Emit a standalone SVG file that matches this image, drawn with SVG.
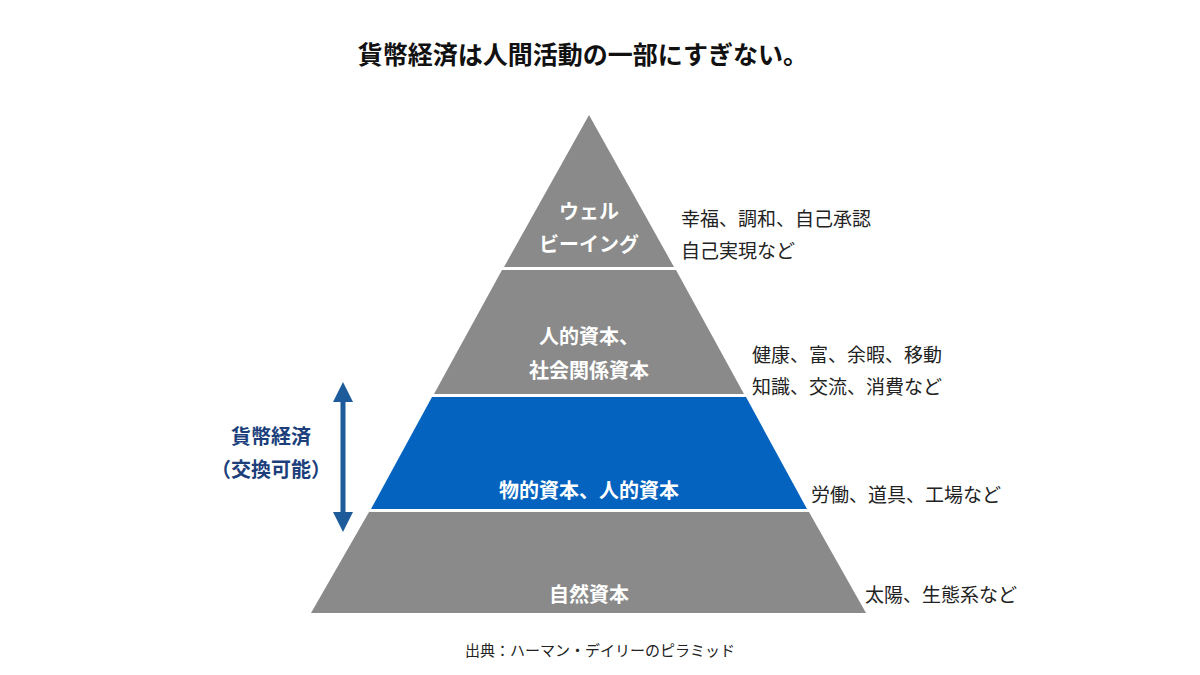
<svg xmlns="http://www.w3.org/2000/svg" width="1200" height="675" viewBox="0 0 1200 675">
<style>
text{font-family:"Noto Sans CJK JP","Noto Sans",sans-serif}
.t{font-size:25px;font-weight:bold;fill:#111}
.in{font-size:20px;font-weight:bold;fill:#fff;text-anchor:middle}
.side{font-size:19px;fill:#222}
.g{fill:#8a8a8a}
.lbl{font-size:20px;font-weight:bold;fill:#1c3f7c;text-anchor:middle}
</style>
<defs>
<marker id="ah" viewBox="0 0 10 10" refX="5" refY="5" markerWidth="4" markerHeight="4" orient="auto-start-reverse"><path d="M0,0L10,5L0,10z" fill="#1e5b9a"/></marker>
</defs>
<rect width="1200" height="675" fill="#fff"/>
<text class="t" x="583" y="64" text-anchor="middle">貨幣経済は人間活動の一部にすぎない。</text>
<g id="n1"><polygon class="g" points="589,115 674,267 504,267"/>
<text class="in" x="589" y="219">ウェル</text><text class="in" x="589" y="252">ビーイング</text></g>
<g id="n2"><polygon class="g" points="502,270 676,270 744,394 434,394"/>
<text class="in" x="589" y="344">人的資本、</text><text class="in" x="589" y="378">社会関係資本</text></g>
<g id="n3"><polygon fill="#0563c0" points="432,397 746,397 807,509 371,509"/>
<text class="in" x="589" y="498">物的資本、人的資本</text></g>
<g id="n4"><polygon class="g" points="369,512 809,512 866,613 311,613"/>
<text class="in" x="589" y="602">自然資本</text></g>
<g id="sides">
<text class="side" x="681" y="226">幸福、調和、自己承認</text>
<text class="side" x="681" y="258">自己実現など</text>
<text class="side" x="752" y="362">健康、富、余暇、移動</text>
<text class="side" x="752" y="394">知識、交流、消費など</text>
<text class="side" x="811" y="502">労働、道具、工場など</text>
<text class="side" x="865" y="602">太陽、生態系など</text>
</g>
<g id="connectors"><line x1="343" y1="392" x2="343" y2="522" stroke="#1e5b9a" stroke-width="5" marker-start="url(#ah)" marker-end="url(#ah)"/></g>
<g id="econ"><text class="lbl" x="271" y="444">貨幣経済</text><text class="lbl" x="271" y="477">（交換可能）</text></g>
<text x="600" y="656" font-size="15" fill="#222" text-anchor="middle">出典：ハーマン・デイリーのピラミッド</text>
</svg>
